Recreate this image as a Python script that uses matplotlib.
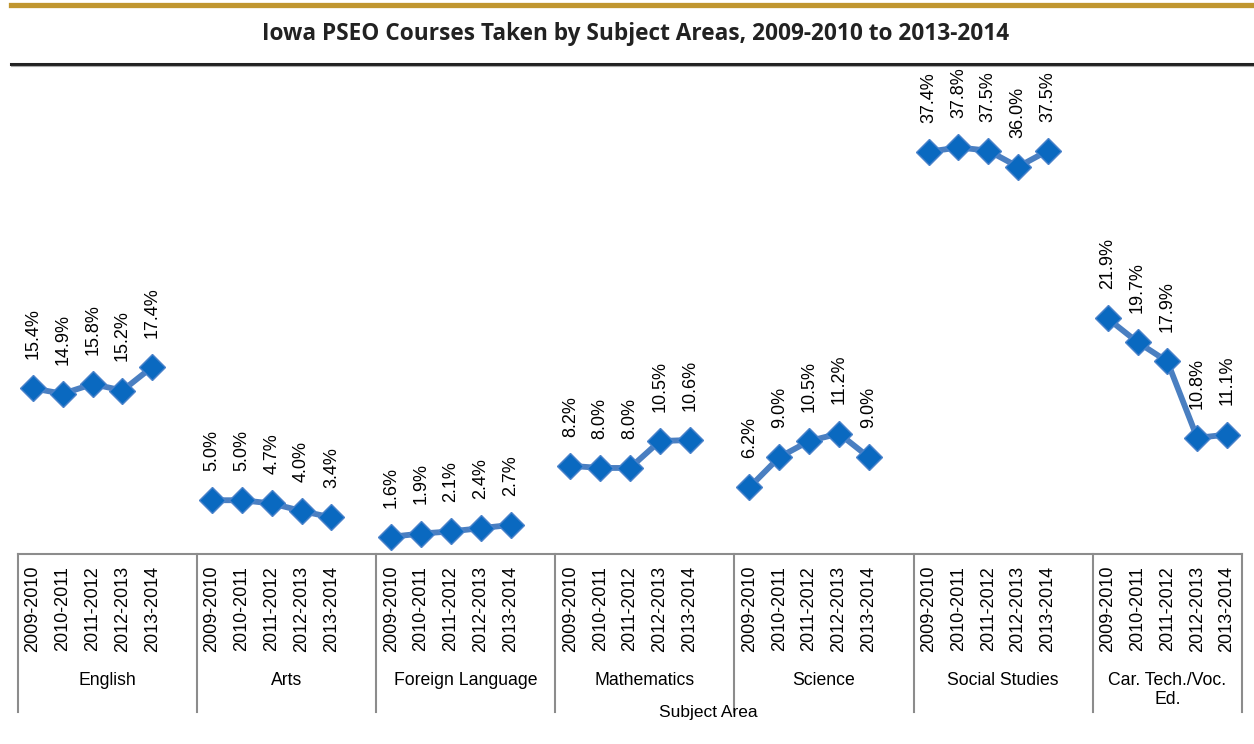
import matplotlib.pyplot as plt
from matplotlib.lines import Line2D
import matplotlib.transforms as mtransforms

years = ["2009-2010", "2010-2011", "2011-2012", "2012-2013", "2013-2014"]
subjects = ["English", "Arts", "Foreign Language", "Mathematics",
            "Science", "Social Studies", "Car. Tech./Voc.\nEd."]
english = [15.4, 14.9, 15.8, 15.2, 17.4]
arts = [5.0, 5.0, 4.7, 4.0, 3.4]
foreign_language = [1.6, 1.9, 2.1, 2.4, 2.7]
mathematics = [8.2, 8.0, 8.0, 10.5, 10.6]
science = [6.2, 9.0, 10.5, 11.2, 9.0]
social_studies = [37.4, 37.8, 37.5, 36.0, 37.5]
car_tech = [21.9, 19.7, 17.9, 10.8, 11.1]
series = [english, arts, foreign_language, mathematics, science, social_studies, car_tech]

W, H = 1254, 744
fig = plt.figure(figsize=(W / 100, H / 100), dpi=100)
plt.rcParams['font.family'] = ['Liberation Sans', 'DejaVu Sans']

# header rules and title
fig.add_artist(Line2D([11 / W, 1], [1 - 4.5 / H, 1 - 4.5 / H], color='#C0962F', lw=3.8))
fig.add_artist(Line2D([11 / W, 1], [1 - 64 / H, 1 - 64 / H], color='#222222', lw=2.2))
fig.add_artist(Line2D([11 / W, 1], [1 - 65.8 / H, 1 - 65.8 / H], color='#aaaaaa', lw=0.8))
fig.text(636 / W, 1 - 34 / H, "Iowa PSEO Courses Taken by Subject Areas, 2009-2010 to 2013-2014",
         ha='center', va='center', fontsize=16.3, fontweight='bold',
         family=['Open Sans', 'DejaVu Sans'], color='#222222')

left, right, bottom, top = 18, 1242, 554, 70
ax = fig.add_axes([left / W, 1 - bottom / H, (right - left) / W, (bottom - top) / H])
nslots = len(subjects) * 6 - 1
ax.set_xlim(0, nslots)
ax.set_ylim(0, 45)
for s in ['top', 'right', 'left']:
    ax.spines[s].set_visible(False)
ax.spines['bottom'].set_color('#8c8c8c')
ax.spines['bottom'].set_linewidth(1.5)
ax.set_xticks([])
ax.set_yticks([])

trans = mtransforms.blended_transform_factory(ax.transData, ax.transAxes)
px = 1 / (bottom - top)

for g, vals in enumerate(series):
    xs = [g * 6 + i + 0.5 for i in range(len(vals))]
    ax.plot(xs, vals, color='#4A7FC1', lw=4.2, marker='D', markersize=13.5,
            markerfacecolor='#0A69C0', markeredgecolor='#4A82CA', markeredgewidth=1,
            clip_on=False, zorder=3)
    for x, v in zip(xs, vals):
        ax.annotate(f"{v:.1f}%", (x, v), xytext=(0, 21), textcoords='offset points',
                    rotation=90, ha='center', va='bottom', fontsize=13)
    for x, yr in zip(xs, years):
        ax.text(x, -12 * px, yr, transform=trans, rotation=90, ha='center', va='top',
                fontsize=13)
    xc = g * 6 + 2.5 if g == len(series) - 1 else g * 6 + 3
    ax.text(xc, -118 * px, subjects[g], transform=trans, ha='center', va='top',
            fontsize=12.7, linespacing=1.15)

# group separators
for k in range(len(subjects) + 1):
    xk = min(k * 6, nslots)
    ax.add_line(Line2D([xk, xk], [0, -158 * px], transform=trans, color='#8c8c8c',
                       lw=1.5, clip_on=False))

fig.text(708 / W, 1 - 712 / H, "Subject Area", ha='center', va='center', fontsize=12.5)

fig.savefig("out.png", dpi=100)
